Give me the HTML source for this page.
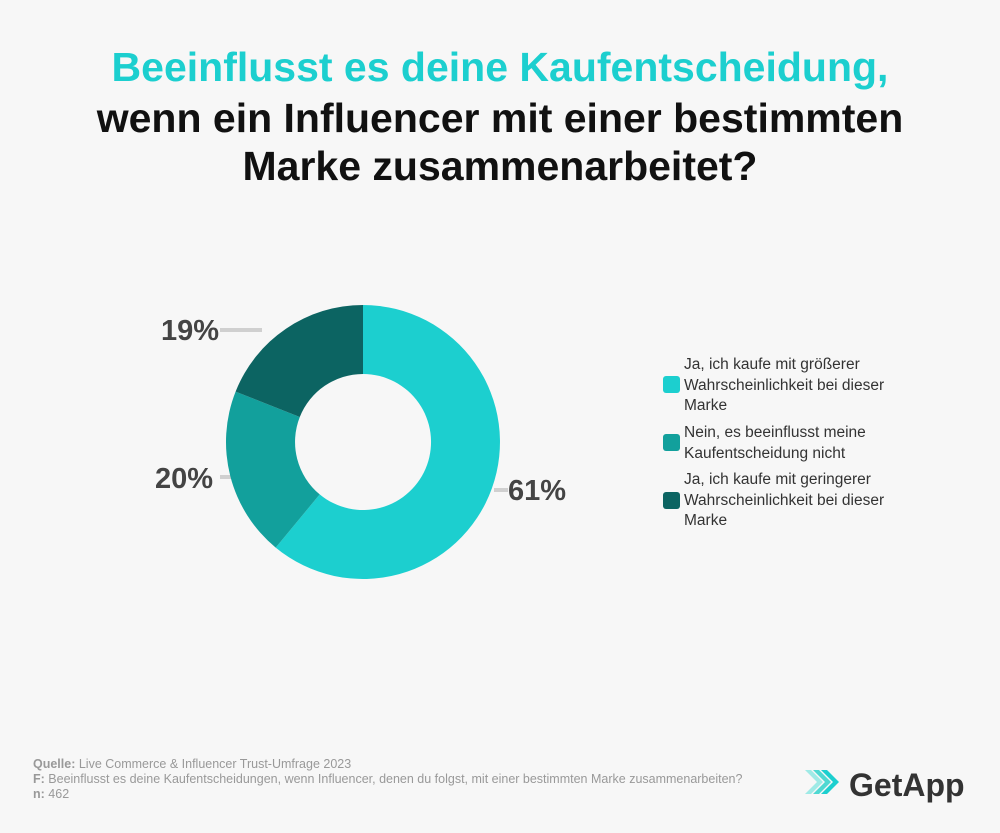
<!DOCTYPE html>
<html><head><meta charset="utf-8"><style>
body{margin:0;width:1000px;height:833px;background:#f7f7f7;font-family:"Liberation Sans",sans-serif;position:relative;overflow:hidden}
.t{position:absolute;left:0;width:1000px;text-align:center;font-weight:bold;font-size:41px;color:#111}
.lg{position:absolute;left:684px;font-size:15.5px;line-height:20.5px;color:#333}
.sw{position:absolute;left:663px;width:17px;height:17px;border-radius:3px}
.f{position:absolute;left:33px;font-size:12.5px;color:#999;line-height:15px}
</style></head><body>
<div class="t" style="top:44px;color:#1ccfcf">Beeinflusst es deine Kaufentscheidung,</div>
<div class="t" style="top:95px">wenn ein Influencer mit einer bestimmten</div>
<div class="t" style="top:143px">Marke zusammenarbeitet?</div>
<svg width="1000" height="833" style="position:absolute;left:0;top:0">
<g stroke="#d0d0d0" stroke-width="4"><line x1="220" y1="330" x2="262" y2="330"/><line x1="220" y1="477" x2="234" y2="477"/><line x1="494" y1="490" x2="508" y2="490"/></g>
<path d="M363 305 A137 137 0 1 1 275.7 547.6 L319.7 494.4 A68 68 0 1 0 363 374Z" fill="#1ccfcf"/>
<path d="M275.7 547.6 A137 137 0 0 1 235.6 391.6 L299.8 417 A68 68 0 0 0 319.7 494.4Z" fill="#12a09c"/>
<path d="M235.6 391.6 A137 137 0 0 1 363 305 L363 374 A68 68 0 0 0 299.8 417Z" fill="#0c6462"/>
<g font-family="Liberation Sans" font-size="29" font-weight="bold" fill="#444"><text x="161" y="340">19%</text><text x="155" y="488">20%</text><text x="508" y="500">61%</text></g>
<g transform="translate(805,768)"><path d="M0 2 L12 14 L0 26 L6 26 L18 14 L6 2Z" fill="#9feae6"/><path d="M8 2 L20 14 L8 26 L14 26 L26 14 L14 2Z" fill="#4fd8d2"/><path d="M16 2 L28 14 L16 26 L22 26 L34 14 L22 2Z" fill="#1ccfcf"/></g>
<text x="849" y="796" font-family="Liberation Sans" font-size="32" font-weight="bold" fill="#333">GetApp</text>
</svg>
<div class="sw" style="top:376px;background:#1ccfcf"></div>
<div class="lg" style="top:355px">Ja, ich kaufe mit größerer<br>Wahrscheinlichkeit bei dieser<br>Marke</div>
<div class="sw" style="top:434px;background:#12a09c"></div>
<div class="lg" style="top:423px">Nein, es beeinflusst meine<br>Kaufentscheidung nicht</div>
<div class="sw" style="top:492px;background:#0c6462"></div>
<div class="lg" style="top:470px">Ja, ich kaufe mit geringerer<br>Wahrscheinlichkeit bei dieser<br>Marke</div>
<div class="f" style="top:757px"><b>Quelle:</b> Live Commerce &amp; Influencer Trust-Umfrage 2023<br><b>F:</b> Beeinflusst es deine Kaufentscheidungen, wenn Influencer, denen du folgst, mit einer bestimmten Marke zusammenarbeiten?<br><b>n:</b> 462</div>
</body></html>
